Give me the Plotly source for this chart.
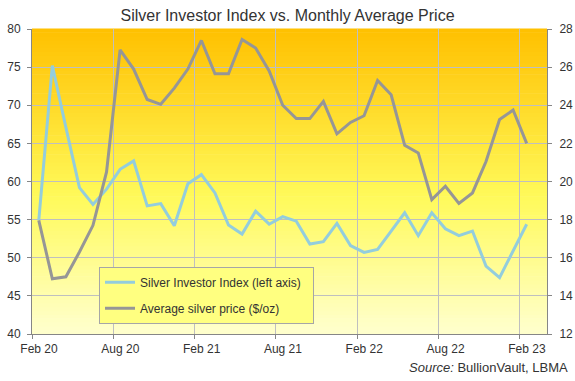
import plotly.graph_objects as go
import pandas as pd

# ---- data (Feb 2020 .. Feb 2023, monthly) ----
months = pd.date_range("2020-02-01", "2023-02-01", freq="MS")
investor_index = [54.9, 75.2, 67.1, 59.2, 57.0, 59.0, 61.6, 62.7, 56.8, 57.1, 54.2, 59.7,
                  60.9, 58.5, 54.3, 53.1, 56.1, 54.4, 55.4, 54.8, 51.8, 52.1, 54.5, 51.6,
                  50.7, 51.1, 53.5, 55.9, 52.9, 55.9, 53.8, 52.9, 53.5, 48.9, 47.4, 50.9,
                  54.4]
silver_price = [17.96, 14.9, 15.0, 16.3, 17.7, 20.5, 26.9, 25.9, 24.3, 24.05, 24.9, 25.9,
                27.4, 25.65, 25.65, 27.45, 27.0, 25.8, 24.0, 23.3, 23.3, 24.2, 22.5, 23.1,
                23.45, 25.3, 24.55, 21.9, 21.5, 19.05, 19.75, 18.85, 19.4, 21.05, 23.25, 23.75,
                22.0]
tick_labels = ["Feb 20", "Aug 20", "Feb 21", "Aug 21", "Feb 22", "Aug 22", "Feb 23"]
n_categories = 38  # Feb 20 .. Mar 23 slots on the category axis

idx = list(range(len(months)))
tick_pos = [i - 0.5 for i in range(0, 37, 6)]

FONT = "Arial, 'Liberation Sans', sans-serif"
TXT = "#333333"
AX = "#868686"
GRID = "#BFBFBF"

fig = go.Figure()
fig.add_trace(go.Scatter(x=idx, y=investor_index, mode="lines",
                         name="Silver Investor Index (left axis)\u00a0\u00a0", legendgroup="a",
                         line=dict(color="#93CDDD", width=3)))
fig.add_trace(go.Scatter(x=idx, y=silver_price, mode="lines", yaxis="y2",
                         name="Average silver price ($/oz)", legendgroup="b",
                         line=dict(color="#969696", width=3)))

# gradient plot background
stops = [(0.0, (255, 255, 206)), (0.45, (255, 250, 90)), (1.0, (255, 192, 0))]
def col(t):
    for (t0, c0), (t1, c1) in zip(stops[:-1], stops[1:]):
        if t <= t1:
            f = (t - t0) / (t1 - t0)
            return "rgb(%d,%d,%d)" % tuple(round(a + (b - a) * f) for a, b in zip(c0, c1))
    return "rgb(%d,%d,%d)" % stops[-1][1]
N = 80
shapes = []
for i in range(N):
    shapes.append(dict(type="rect", xref="paper", yref="paper", x0=0, x1=1,
                       y0=i / N, y1=(i + 1) / N + 0.002, line=dict(width=0),
                       fillcolor=col((i + 0.5) / N), layer="below"))

fig.update_layout(
    template="none",
    width=575, height=381,
    margin=dict(l=32, r=28, t=29, b=47, pad=0),
    paper_bgcolor="white", plot_bgcolor="white",
    font=dict(family=FONT, size=12, color=TXT),
    title=dict(text="Silver Investor Index vs. Monthly Average Price",
               x=0.5, xanchor="center", y=1 - 15.5 / 381, yanchor="middle",
               font=dict(size=16, color=TXT, family=FONT)),
    shapes=shapes,
    showlegend=True,
    legend=dict(x=(99 - 32) / 515, y=(334 - 266.7) / 305, xanchor="left", yanchor="top",
                bgcolor="#FFFF80", bordercolor="#A6A6A6", borderwidth=1,
                font=dict(size=12, color=TXT), tracegroupgap=7, itemwidth=30),
    xaxis=dict(range=[-0.5, n_categories - 0.5], tickvals=tick_pos, ticktext=tick_labels,
               ticklabelshift=7, ticks="outside", ticklen=4, tickcolor=AX,
               showline=True, linecolor=AX, linewidth=1, showgrid=True, gridcolor=GRID,
               gridwidth=1, zeroline=False, automargin=False),
    yaxis=dict(range=[40, 80], dtick=5, ticks="outside", ticklen=4, tickcolor=AX,
               showline=True, linecolor=AX, showgrid=True, gridcolor=GRID, gridwidth=1,
               zeroline=False, ticklabelstandoff=4, automargin=False),
    yaxis2=dict(range=[12, 28], dtick=2, overlaying="y", side="right", ticks="outside",
                ticklen=4, tickcolor=AX, showline=True, linecolor=AX, showgrid=False,
                zeroline=False, ticklabelstandoff=5, automargin=False),
    annotations=[dict(text="<i>Source:</i> BullionVault, LBMA", xref="paper", yref="paper",
                      x=(569.5 - 32) / 515, y=(334 - 367) / 305, xanchor="right",
                      yanchor="middle", showarrow=False, font=dict(size=13, color=TXT))],
)

fig.write_html("out.html", config={"displayModeBar": False},
               post_script="document.body.style.margin='0';")
